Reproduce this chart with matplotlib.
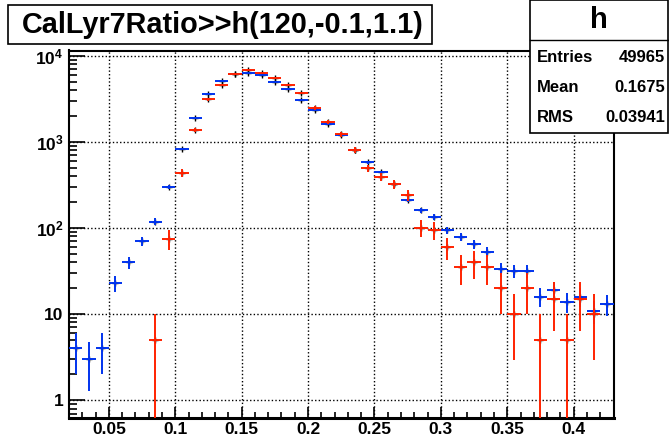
import numpy as np
import matplotlib
matplotlib.use("Agg")
import matplotlib.pyplot as plt
from matplotlib.patches import Rectangle
from matplotlib.ticker import FixedLocator, FixedFormatter, NullFormatter

plt.rcParams['font.family'] = 'Liberation Sans'
plt.rcParams['mathtext.fontset'] = 'custom'
plt.rcParams['mathtext.rm'] = 'Liberation Sans:bold'
plt.rcParams['mathtext.bf'] = 'Liberation Sans:bold'

# bin centres (bin width 0.01)
bins = [0.025, 0.035, 0.045, 0.055, 0.065, 0.075, 0.085, 0.095, 0.105, 0.115,
        0.125, 0.135, 0.145, 0.155, 0.165, 0.175, 0.185, 0.195, 0.205, 0.215,
        0.225, 0.235, 0.245, 0.255, 0.265, 0.275, 0.285, 0.295, 0.305, 0.315,
        0.325, 0.335, 0.345, 0.355, 0.365, 0.375, 0.385, 0.395, 0.405, 0.415,
        0.425]

# blue histogram, raw counts
blue = [4, 3, 4, 23, 40, 71, 118, 300, 826, 1884,
        3592, 5095, 6060, 6340, 5985, 4960, 4110, 3057, 2337, 1604,
        1204, 798, 578, 442, 323, 214, 160, 135, 94, 79,
        65, 53, 33, 32, 32, 16, 19, 14, 16, 11,
        13]
# red histogram, scaled by 5
red = [0, 0, 0, 0, 0, 0, 5, 75, 440, 1375,
       3140, 4575, 6200, 6845, 6310, 5570, 4575, 3690, 2465, 1720,
       1225, 805, 495, 395, 325, 240, 100, 95, 60, 35,
       40, 35, 20, 10, 20, 5, 15, 5, 15, 10,
       0]
red_scale = 5

title = "CalLyr7Ratio>>h(120,-0.1,1.1)"
stats = [("Entries", "49965"), ("Mean", "0.1675"), ("RMS", "0.03941")]

W, H = 669, 437
fig = plt.figure(figsize=(W / 100, H / 100), dpi=100)
fig.patch.set_facecolor("white")

# axes frame in pixels: x 69..613, y 50..417
ax = fig.add_axes([69 / W, 1 - 417.5 / H, (613.5 - 69) / W, (417.5 - 50.5) / H])
ax.set_yscale("log")
ax.set_xlim(0.02, 0.43)
ax.set_ylim(0.63, 11500)


def draw_hist(vals, weight, color):
    x = np.array(bins)
    y = np.array(vals, dtype=float)
    m = y > 0
    x, y = x[m], y[m]
    err = np.sqrt(y * weight)
    lo = y - np.maximum(y - err, 1e-3)
    ax.plot(x, y, "+", color="k", ms=5, mew=1.0, zorder=2)
    ax.errorbar(x, y, xerr=0.005, yerr=[lo, err], fmt="none",
                ecolor=color, elinewidth=1.4, capsize=0, zorder=3)


draw_hist(blue, 1, "#0033ee")
draw_hist(red, red_scale, "#ff2200")

# grid
for gx in [0.05, 0.1, 0.15, 0.2, 0.25, 0.3, 0.35, 0.4]:
    ax.axvline(gx, color="k", lw=1.0, ls=(0, (1, 1.6)), zorder=1)
for gy in [1, 10, 100, 1000, 10000]:
    ax.axhline(gy, color="k", lw=1.0, ls=(0, (1, 1.6)), zorder=1)

ax.xaxis.set_major_locator(FixedLocator([0.05, 0.1, 0.15, 0.2, 0.25, 0.3, 0.35, 0.4]))
ax.xaxis.set_major_formatter(FixedFormatter(["0.05", "0.1", "0.15", "0.2", "0.25", "0.3", "0.35", "0.4"]))
ax.xaxis.set_minor_locator(FixedLocator([0.02 + 0.01 * i for i in range(42)]))
ax.yaxis.set_major_locator(FixedLocator([1, 10, 100, 1000, 10000]))
ax.yaxis.set_major_formatter(FixedFormatter(["1", "10", r"$\mathbf{10^{2}}$",
                                             r"$\mathbf{10^{3}}$", r"$\mathbf{10^{4}}$"]))
ax.yaxis.set_minor_locator(FixedLocator([m * 10 ** d for d in range(-1, 5) for m in range(2, 10)]))
ax.yaxis.set_minor_formatter(NullFormatter())

ax.tick_params(axis="x", which="major", direction="in", length=8, width=1.2,
               labelsize=12.5, pad=3, top=False)
ax.tick_params(axis="x", which="minor", direction="in", length=4.5, width=1.2, top=False)
ax.tick_params(axis="y", which="major", direction="in", length=11.5, width=1.2,
               labelsize=12.5, pad=4, right=False)
ax.tick_params(axis="y", which="minor", direction="in", length=6, width=1.2, right=False)
for lab in ax.get_xticklabels() + ax.get_yticklabels():
    lab.set_fontweight("bold")
for sp in ax.spines.values():
    sp.set_linewidth(1.5)
ax.spines["bottom"].set_linewidth(2.2)

# title box
fig.patches.append(Rectangle((8 / W, 1 - 44 / H), (432 - 8) / W, 39 / H,
                             transform=fig.transFigure, facecolor="white",
                             edgecolor="black", lw=1.2, zorder=5))
fig.text(223 / W, 1 - 25 / H, title, ha="center", va="center",
         fontsize=20.8, fontweight="bold", zorder=6)

# stats box
fig.patches.append(Rectangle((530 / W, 1 - 133 / H), (668 - 530) / W, 133 / H,
                             transform=fig.transFigure, facecolor="white",
                             edgecolor="black", lw=1.2, zorder=5))
fig.add_artist(plt.Line2D([530 / W, 668 / W], [1 - 40 / H, 1 - 40 / H],
                          transform=fig.transFigure, color="black", lw=1.0, zorder=6))
fig.text(599 / W, 1 - 20 / H, "h", ha="center", va="center",
         fontsize=21, fontweight="bold", zorder=6)
for i, (k, v) in enumerate(stats):
    yy = 1 - (58 + 30 * i) / H
    fig.text(537 / W, yy, k, ha="left", va="center", fontsize=12,
             fontweight="bold", zorder=6)
    fig.text(665 / W, yy, v, ha="right", va="center", fontsize=12,
             fontweight="bold", zorder=6)

fig.savefig("out.png", dpi=100)
